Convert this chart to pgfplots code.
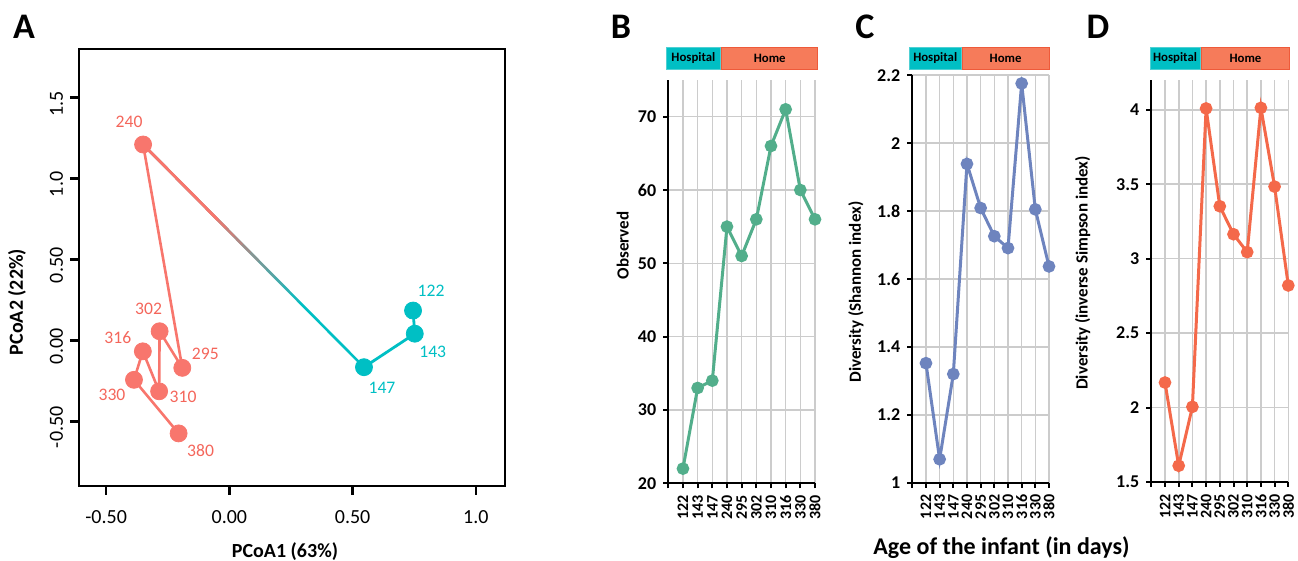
\documentclass[border=0pt]{standalone}
\usepackage{pgfplots}
\pgfplotsset{compat=1.18}
\usepackage{pgfplotstable}
\usepackage{fontspec}
\setmainfont{Carlito}
\definecolor{salmon}{HTML}{F8766D}
\definecolor{salmontxt}{HTML}{F4665B}
\definecolor{tealc}{HTML}{00BFC4}
\definecolor{greenc}{HTML}{52AE8B}
\definecolor{bluec}{HTML}{6E84BE}
\definecolor{orangec}{HTML}{F4694A}
\definecolor{homec}{HTML}{F67B5A}
\definecolor{homeedge}{HTML}{EE5A3A}
\definecolor{hospedge}{HTML}{4FD0D3}

\pgfplotstableread{
x y lab dx dy
-0.350 1.210 240 -7 11.5
-0.191 -0.170 295 11.5 7
-0.283 0.056 302 -5.5 11
-0.285 -0.315 310 12 -3
-0.351 -0.068 316 -12.5 7
-0.387 -0.244 330 -11 -7.5
-0.206 -0.575 380 11 -8.5
}\reddata
\pgfplotstableread{
x y lab dx dy
0.745 0.184 122 9 10
0.752 0.041 143 9 -9
0.546 -0.166 147 9 -10.5
}\tealdata
% segment joining the last hospital sample (147) to the first home sample (240)
\pgfplotstableread{
x y
0.546 -0.166
-0.350 1.210
}\bridgedata

\pgfplotstableread{
x obs shannon simpson
0 22 1.352 2.168
1 33 1.069 1.609
2 34 1.320 2.005
3 55 1.939 4.009
4 51 1.809 3.352
5 56 1.726 3.164
6 66 1.691 3.044
7 71 2.176 4.013
8 60 1.805 3.484
9 56 1.637 2.820
}\divdata

\pgfplotsset{
  divstyle/.style={
    scale only axis, anchor=south west,
    axis x line*=bottom, axis y line*=left,
    axis line style={line width=1pt, -},
    xmin=-1, xmax=9,
    xtick={-1,0,...,9},
    xticklabels={,122,143,147,240,295,302,310,316,330,380},
    xticklabel style={rotate=90, anchor=east, font=\bfseries\fontsize{8}{8}\selectfont},
    yticklabel style={font=\bfseries\fontsize{9}{9}\selectfont},
    /pgf/number format/assume math mode=true,
    grid=major, grid style={line width=0.8pt, black!20},
    tick style={line width=1pt, black},
    tick align=outside, major tick length=2.5pt,
    clip=false,
    ylabel style={font=\bfseries\fontsize{8.5}{8.5}\selectfont, anchor=center},
  },
  divline/.style={line width=1.5pt, mark=*, mark size=2.4pt, mark options={solid}},
  bridge/.style={salmon, line width=1.3pt, draw opacity=#1},
}

\begin{document}
\begin{tikzpicture}
\useasboundingbox (0,0) rectangle (649pt,280.5pt);

% ---------------- Panel A ----------------
\begin{axis}[
  at={(39.5pt,37.5pt)}, anchor=south west, scale only axis,
  width=213pt, height=218.5pt,
  xmin=-0.61, xmax=1.118, ymin=-0.90, ymax=1.80,
  xtick={-0.5,0,0.5,1}, xticklabels={-0.50,0.00,0.50,1.0},
  ytick={-0.5,0,0.5,1,1.5}, yticklabels={-0.50,0.00,0.50,1.0,1.5},
  tick pos=left, tick align=outside, major tick length=4.5pt,
  tick style={line width=1.35pt, black},
  axis line style={line width=1.35pt},
  tick label style={font=\fontsize{10}{10}\selectfont},
  xticklabel style={yshift=-4pt},
  yticklabel style={rotate=90, anchor=south, xshift=-3pt},
  xlabel={PCoA1 (63\%)}, ylabel={PCoA2 (22\%)},
  label style={font=\bfseries\fontsize{10}{10}\selectfont},
  xlabel style={at={(axis description cs:0.4836,-0.15)}, anchor=center},
  ylabel style={at={(axis description cs:-0.1455,0.421)}, anchor=center},
  clip=false,
]
\addplot[salmon, line width=1.3pt] table[x=x,y=y]{\reddata};
\addplot[tealc, line width=1.4pt] table[x=x,y=y]{\tealdata};
% colour transition teal -> salmon along the bridging segment
\addplot[tealc, line width=1.3pt] table[x=x,y=y]{\bridgedata};
\addplot[bridge=0.0909, shorten <=46pt]   table[x=x,y=y]{\bridgedata};
\addplot[bridge=0.1,    shorten <=51.8pt] table[x=x,y=y]{\bridgedata};
\addplot[bridge=0.1111, shorten <=57.6pt] table[x=x,y=y]{\bridgedata};
\addplot[bridge=0.125,  shorten <=63.3pt] table[x=x,y=y]{\bridgedata};
\addplot[bridge=0.1429, shorten <=69.1pt] table[x=x,y=y]{\bridgedata};
\addplot[bridge=0.1667, shorten <=74.9pt] table[x=x,y=y]{\bridgedata};
\addplot[bridge=0.2,    shorten <=80.7pt] table[x=x,y=y]{\bridgedata};
\addplot[bridge=0.25,   shorten <=86.4pt] table[x=x,y=y]{\bridgedata};
\addplot[bridge=0.3333, shorten <=92.2pt] table[x=x,y=y]{\bridgedata};
\addplot[bridge=0.5,    shorten <=98pt]   table[x=x,y=y]{\bridgedata};
\addplot[bridge=1,      shorten <=103.8pt] table[x=x,y=y]{\bridgedata};
\addplot[only marks, mark=*, mark size=4.25pt, color=salmon,
  point meta=explicit symbolic,
  visualization depends on={\thisrow{dx}\as\dx},
  visualization depends on={\thisrow{dy}\as\dy},
  nodes near coords,
  nodes near coords style={anchor=center, xshift=\dx pt, yshift=\dy pt,
    font=\fontsize{8.8}{8.8}\selectfont, text=salmontxt}]
  table[x=x,y=y,meta=lab]{\reddata};
\addplot[only marks, mark=*, mark size=4.25pt, color=tealc,
  point meta=explicit symbolic,
  visualization depends on={\thisrow{dx}\as\dx},
  visualization depends on={\thisrow{dy}\as\dy},
  nodes near coords,
  nodes near coords style={anchor=center, xshift=\dx pt, yshift=\dy pt,
    font=\fontsize{8.8}{8.8}\selectfont, text=tealc}]
  table[x=x,y=y,meta=lab]{\tealdata};
\end{axis}

% ---------------- Panel B ----------------
\begin{axis}[divstyle, at={(334.15pt,38.85pt)}, width=73.35pt, height=201.65pt,
  ymin=20, ymax=75, ytick={20,30,...,70}, ylabel={Observed},
  ylabel style={at={(axis description cs:-0.3115,0.59)}}]
\addplot[divline, greenc] table[x=x,y=obs]{\divdata};
\end{axis}

% ---------------- Panel C ----------------
\begin{axis}[divstyle, at={(456.15pt,39.15pt)}, width=68.35pt, height=203.7pt,
  ymin=1, ymax=2.2, ytick={1,1.2,1.4,1.6,1.8,2,2.2}, ylabel={Diversity (Shannon index)},
  ylabel style={at={(axis description cs:-0.412,0.468)}}]
\addplot[divline, bluec] table[x=x,y=shannon]{\divdata};
\end{axis}

% ---------------- Panel D ----------------
\begin{axis}[divstyle, at={(575.65pt,39.5pt)}, width=68.5pt, height=201pt,
  ymin=1.5, ymax=4.2, ytick={1.5,2,2.5,3,3.5,4}, ylabel={Diversity (inverse Simpson index)},
  ylabel style={at={(axis description cs:-0.501,0.52)}}]
\addplot[divline, orangec] table[x=x,y=simpson]{\divdata};
\end{axis}

% ---------------- Headers ----------------
\tikzset{hosp/.style={draw=hospedge, fill=tealc, line width=0.5pt},
         home/.style={draw=homeedge, fill=homec, line width=0.5pt},
         hdrtxt/.style={font=\bfseries\fontsize{6.4}{6.4}\selectfont, text=black, inner sep=0pt}}
\path[hosp] (333.35pt,245.85pt) rectangle (360pt,256.65pt);
\path[home] (360.85pt,245.85pt) rectangle (408.85pt,256.65pt);
\node[hdrtxt] at (346.7pt,251.25pt) {Hospital};
\node[hdrtxt] at (384.85pt,251.25pt) {Home};
\path[hosp] (454.65pt,245.85pt) rectangle (480.5pt,256.65pt);
\path[home] (481.15pt,245.85pt) rectangle (524.5pt,256.65pt);
\node[hdrtxt] at (467.6pt,251.25pt) {Hospital};
\node[hdrtxt] at (502.8pt,251.25pt) {Home};
\path[hosp] (575pt,245.85pt) rectangle (600pt,256.65pt);
\path[home] (600.85pt,245.85pt) rectangle (644.65pt,256.65pt);
\node[hdrtxt] at (587.5pt,251.25pt) {Hospital};
\node[hdrtxt] at (622.75pt,251.25pt) {Home};

% ---------------- Panel letters & shared label ----------------
\tikzset{plet/.style={font=\bfseries\fontsize{18}{18}\selectfont, anchor=center}}
\node[plet] at (12pt,267.25pt) {A};
\node[plet] at (310.5pt,267.25pt) {B};
\node[plet] at (432.5pt,267.25pt) {C};
\node[plet] at (549pt,267.25pt) {D};
\node[font=\bfseries\fontsize{12}{12}\selectfont, anchor=base, inner sep=0pt] at (500.75pt,3.4pt) {Age of the infant (in days)};
\end{tikzpicture}
\end{document}
